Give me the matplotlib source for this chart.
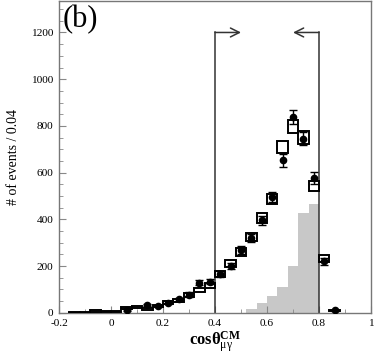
import numpy as np
import matplotlib
matplotlib.use("Agg")
import matplotlib.pyplot as plt
from matplotlib.ticker import MultipleLocator

plt.rcParams['font.family'] = ['Liberation Serif', 'DejaVu Serif']
plt.rcParams['mathtext.fontset'] = 'custom'
plt.rcParams['mathtext.rm'] = 'Liberation Serif'
plt.rcParams['mathtext.it'] = 'Liberation Serif:italic'
plt.rcParams['mathtext.bf'] = 'Liberation Serif:bold'

# MC expectation (open boxes), bin width 0.04
mc_x = [-0.14, -0.10, -0.06, -0.02, 0.02, 0.06, 0.10, 0.14, 0.18, 0.22, 0.26, 0.30, 0.34,
        0.38, 0.42, 0.46, 0.50, 0.54, 0.58, 0.62, 0.66, 0.70, 0.74, 0.78, 0.82, 0.86]
mc_y = [2, 3, 8, 5, 6, 20, 25, 15, 28, 43, 54, 76, 97,
        118, 165, 211, 261, 325, 406, 486, 709, 798, 750, 543, 232, 10]
mc_err = [1, 2, 3, 2, 2, 4, 5, 4, 5, 7, 7, 9, 10,
          11, 13, 15, 16, 18, 20, 22, 27, 28, 27, 23, 15, 3]

# data points
data_x = [0.06, 0.14, 0.18, 0.22, 0.26, 0.30, 0.34, 0.38, 0.42, 0.46, 0.50,
          0.54, 0.58, 0.62, 0.66, 0.70, 0.74, 0.78, 0.82, 0.86]
data_y = [12, 33, 30, 43, 57, 78, 128, 132, 165, 200, 268,
          320, 396, 496, 652, 838, 745, 577, 221, 10]
data_err = [3, 6, 5, 7, 8, 9, 11, 11, 13, 14, 16,
            18, 20, 22, 26, 29, 27, 24, 15, 3]

# signal histogram (grey)
sig_lo = [0.52, 0.56, 0.60, 0.64, 0.68, 0.72, 0.76]
sig_y = [15, 43, 72, 112, 202, 425, 464]

cut_lo, cut_hi = 0.4, 0.8
arrow_y = 1200

fig = plt.figure(figsize=(3.74, 3.55), dpi=100)
ax = fig.add_axes([0.158, 0.119, 0.834, 0.879])

ax.bar(sig_lo, sig_y, width=0.04, align='edge', color='#c8c8c8', edgecolor='none', zorder=1)

mc_y_a = np.array(mc_y)
mc_err_a = np.array(mc_err)
ax.bar(mc_x, 2 * mc_err_a, bottom=mc_y_a - mc_err_a, width=0.04, fill=False,
       edgecolor='black', linewidth=1.4, zorder=3)

ax.errorbar(data_x, data_y, yerr=data_err, fmt='o', color='black', markersize=4.5,
            elinewidth=1.0, capsize=3, capthick=1.0, zorder=4)

# cut lines with arrows
for xc in (cut_lo, cut_hi):
    ax.plot([xc, xc], [0, arrow_y], color='#333333', linewidth=1.1, zorder=2)
ax.annotate('', xy=(0.5, arrow_y), xytext=(cut_lo, arrow_y),
            arrowprops=dict(arrowstyle='->', color='#333333', lw=1.1, mutation_scale=16,
                            shrinkA=0, shrinkB=0))
ax.annotate('', xy=(0.7, arrow_y), xytext=(cut_hi, arrow_y),
            arrowprops=dict(arrowstyle='->', color='#333333', lw=1.1, mutation_scale=16,
                            shrinkA=0, shrinkB=0))

ax.set_xlim(-0.2, 1.0)
ax.set_ylim(0, 1336)
ax.set_xticks([-0.2, 0, 0.2, 0.4, 0.6, 0.8, 1])
ax.set_xticklabels(['-0.2', '0', '0.2', '0.4', '0.6', '0.8', '1'])
ax.xaxis.set_minor_locator(MultipleLocator(0.1))
ax.yaxis.set_major_locator(MultipleLocator(200))
ax.yaxis.set_minor_locator(MultipleLocator(50))
ax.tick_params(which='both', direction='in', color='#888888', labelsize=8.2)
ax.tick_params(axis='x', pad=4.5)
ax.tick_params(axis='y', pad=4)
ax.tick_params(which='major', length=5)
ax.tick_params(which='minor', length=3)
for sp in ax.spines.values():
    sp.set_color('#777777')
    sp.set_linewidth(1.0)

ax.set_ylabel('# of events / 0.04', fontsize=10, labelpad=8)
fig.text(0.575, 0.0, r'$\mathbf{cos\theta}^{\mathbf{CM}}_{\mathrm{\mu\gamma}}$',
         fontsize=12, ha='center', va='bottom')

ax.text(0.012, 0.985, '(b)', transform=ax.transAxes, fontsize=22, va='top', ha='left')

fig.savefig('out.png', dpi=100)
